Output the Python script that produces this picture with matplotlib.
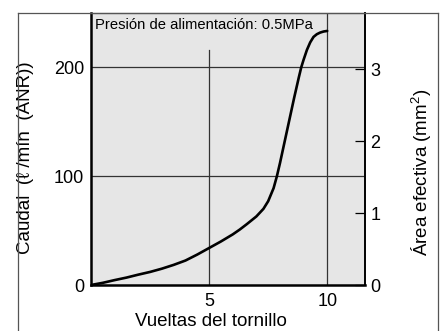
import matplotlib
matplotlib.use("Agg")
import matplotlib.pyplot as plt
from matplotlib.lines import Line2D

# Data
turns = [0, 0.5, 1, 1.5, 2, 2.5, 3, 3.5, 4, 4.5, 5, 5.5, 6, 6.3, 6.6, 7.0, 7.3, 7.5, 7.73, 7.87, 8.0, 8.2,
         8.4, 8.6, 8.8, 8.9, 9.0, 9.14, 9.28, 9.42, 9.56, 9.7, 9.85, 10.0]
flow = [0, 2, 4.5, 6.8, 9.5, 12, 15, 18.5, 22.5, 28, 34, 40, 46.5, 51, 56, 63, 70, 77, 89, 100, 112, 132,
        152, 172, 191, 200, 207, 216, 223, 228, 230.5, 232, 233, 233.5]
x_ticks = [5, 10]
y_ticks = [0, 100, 200]
area_ticks = [0, 1, 2, 3]
title_text = "Presión de alimentación: 0.5MPa"
xlabel = "Vueltas del tornillo"
ylabel = "Caudal  (ℓ /mín  (ANR))"
y2label = "Área efectiva (mm$^2$)"

W, H = 443, 331
fig = plt.figure(figsize=(W / 100, H / 100), dpi=100)
fam = ['Liberation Sans', 'DejaVu Sans']
plt.rcParams['font.family'] = fam
plt.rcParams['mathtext.fontset'] = 'custom'
plt.rcParams['mathtext.rm'] = 'Liberation Sans'

left_px, right_px, top_px, bot_px = 91, 365, 13, 285
ax = fig.add_axes([left_px / W, 1 - bot_px / H, (right_px - left_px) / W, (bot_px - top_px) / H])
ax.set_facecolor('#e6e6e6')
xmax = 11.6
ymax = 250
ax.set_xlim(0, xmax)
ax.set_ylim(0, ymax)

# outer frame
fc = '#555555'
fx0, fx1, fy = 17.5 / W, 437.5 / W, 1 - 12.5 / H
for xs, ys in [([fx0, fx1], [fy, fy]), ([fx0, fx0], [-0.02, fy]), ([fx1, fx1], [-0.02, fy])]:
    fig.add_artist(Line2D(xs, ys, transform=fig.transFigure, color=fc, lw=0.9, zorder=10))

# grid
gc = '#333333'
for yv in [100, 200]:
    ax.axhline(yv, color=gc, lw=0.9, zorder=1)
ax.axvline(10, color=gc, lw=0.9, zorder=1)
ax.axvline(5, ymin=0, ymax=(bot_px - 50) / (bot_px - top_px), color=gc, lw=0.9, zorder=1)

ax.plot(turns, flow, color='black', lw=1.9, zorder=3, solid_capstyle='round')

for s in ['left', 'bottom']:
    ax.spines[s].set_linewidth(1.8)
    ax.spines[s].set_color('black')
ax.spines['right'].set_linewidth(1.4)
ax.spines['top'].set_linewidth(0.9)
ax.spines['top'].set_color(fc)

ax.set_xticks(x_ticks)
ax.set_yticks(y_ticks)
ax.tick_params(axis='both', length=0, labelsize=13, pad=6)
ax.tick_params(axis='y', pad=5)

ax.text(0.015, 0.98, title_text, transform=ax.transAxes, ha='left', va='top',
        fontsize=10.6, zorder=4)

ax2 = ax.twinx()
ax2.set_ylim(0, (bot_px - top_px) / 72.0)
ax2.set_yticks(area_ticks)
ax2.tick_params(axis='y', direction='in', length=7, width=0.9, labelsize=13, pad=4, colors='black')
for s in ax2.spines.values():
    s.set_visible(False)

fig.text(211 / W, 1 - 322 / H, xlabel, ha='center', va='center', fontsize=13.5)
fig.text(26 / W, 1 - 158 / H, ylabel, ha='center', va='center', rotation=90, fontsize=13.5)
fig.text(422 / W, 1 - 172 / H, y2label, ha='center', va='center', rotation=90, fontsize=13.5)

fig.savefig('out.png', dpi=100)
